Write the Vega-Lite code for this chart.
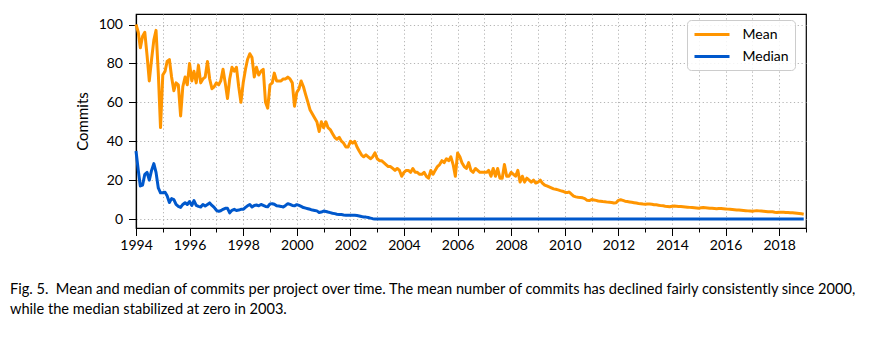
{
"$schema": "https://vega.github.io/schema/vega-lite/v6.json",
"width": 670, "height": 214,
"autosize": {"type": "none"},
"padding": {"left": 136, "top": 14, "right": 90, "bottom": 123},
"data": {"values": [
{"date":"1994-01","Mean":100,"Median":35},{"date":"1994-02","Mean":96,"Median":25},{"date":"1994-03","Mean":88,"Median":17},{"date":"1994-04","Mean":94,"Median":17.5},{"date":"1994-05","Mean":96,"Median":23},{"date":"1994-06","Mean":84,"Median":24},{"date":"1994-07","Mean":71,"Median":20},{"date":"1994-08","Mean":82,"Median":25},{"date":"1994-09","Mean":92,"Median":28.5},{"date":"1994-10","Mean":97,"Median":24},{"date":"1994-11","Mean":75,"Median":16},{"date":"1994-12","Mean":47,"Median":13.5},
{"date":"1995-01","Mean":74,"Median":13.5},{"date":"1995-02","Mean":76,"Median":13.8},{"date":"1995-03","Mean":81,"Median":12},{"date":"1995-04","Mean":82,"Median":8.5},{"date":"1995-05","Mean":73,"Median":10.5},{"date":"1995-06","Mean":66,"Median":10},{"date":"1995-07","Mean":70,"Median":7.5},{"date":"1995-08","Mean":69,"Median":6.5},{"date":"1995-09","Mean":53,"Median":6},{"date":"1995-10","Mean":68,"Median":7.5},{"date":"1995-11","Mean":73,"Median":8.4},{"date":"1995-12","Mean":69,"Median":7.5},
{"date":"1996-01","Mean":80,"Median":9},{"date":"1996-02","Mean":71,"Median":7},{"date":"1996-03","Mean":76,"Median":9.5},{"date":"1996-04","Mean":70,"Median":7},{"date":"1996-05","Mean":79,"Median":6.5},{"date":"1996-06","Mean":70,"Median":6.2},{"date":"1996-07","Mean":72,"Median":7.5},{"date":"1996-08","Mean":73,"Median":6.7},{"date":"1996-09","Mean":81,"Median":7.5},{"date":"1996-10","Mean":72,"Median":8.3},{"date":"1996-11","Mean":67,"Median":7},{"date":"1996-12","Mean":68,"Median":6},
{"date":"1997-01","Mean":70,"Median":4.5},{"date":"1997-02","Mean":69,"Median":4},{"date":"1997-03","Mean":71,"Median":4.3},{"date":"1997-04","Mean":77,"Median":5},{"date":"1997-05","Mean":70,"Median":5.5},{"date":"1997-06","Mean":62,"Median":5.5},{"date":"1997-07","Mean":72,"Median":3.2},{"date":"1997-08","Mean":78,"Median":4.5},{"date":"1997-09","Mean":76,"Median":5},{"date":"1997-10","Mean":78,"Median":4.4},{"date":"1997-11","Mean":68,"Median":4.6},{"date":"1997-12","Mean":60,"Median":5},
{"date":"1998-01","Mean":70,"Median":5},{"date":"1998-02","Mean":77,"Median":6},{"date":"1998-03","Mean":82,"Median":6.8},{"date":"1998-04","Mean":85,"Median":7.5},{"date":"1998-05","Mean":83,"Median":6.2},{"date":"1998-06","Mean":73,"Median":7},{"date":"1998-07","Mean":78,"Median":7.2},{"date":"1998-08","Mean":74,"Median":6.8},{"date":"1998-09","Mean":76,"Median":7.5},{"date":"1998-10","Mean":77,"Median":7},{"date":"1998-11","Mean":60,"Median":6.5},{"date":"1998-12","Mean":57,"Median":6.3},
{"date":"1999-01","Mean":69,"Median":7.8},{"date":"1999-02","Mean":70,"Median":7.9},{"date":"1999-03","Mean":75,"Median":7.6},{"date":"1999-04","Mean":71,"Median":6.8},{"date":"1999-05","Mean":71,"Median":6.7},{"date":"1999-06","Mean":71,"Median":6.5},{"date":"1999-07","Mean":72,"Median":6.2},{"date":"1999-08","Mean":72,"Median":7},{"date":"1999-09","Mean":73,"Median":7.9},{"date":"1999-10","Mean":72,"Median":7.5},{"date":"1999-11","Mean":70,"Median":7},{"date":"1999-12","Mean":58,"Median":6.8},
{"date":"2000-01","Mean":65,"Median":7.4},{"date":"2000-02","Mean":67,"Median":7},{"date":"2000-03","Mean":71,"Median":6.5},{"date":"2000-04","Mean":68,"Median":5.9},{"date":"2000-05","Mean":64,"Median":5.6},{"date":"2000-06","Mean":60,"Median":5.3},{"date":"2000-07","Mean":56,"Median":5},{"date":"2000-08","Mean":54,"Median":4.6},{"date":"2000-09","Mean":52,"Median":4.4},{"date":"2000-10","Mean":50,"Median":4.2},{"date":"2000-11","Mean":45,"Median":3.4},{"date":"2000-12","Mean":50,"Median":3.6},
{"date":"2001-01","Mean":47,"Median":4.1},{"date":"2001-02","Mean":50,"Median":3.9},{"date":"2001-03","Mean":47,"Median":3.6},{"date":"2001-04","Mean":46,"Median":3.3},{"date":"2001-05","Mean":44,"Median":3},{"date":"2001-06","Mean":42,"Median":2.8},{"date":"2001-07","Mean":41,"Median":2.5},{"date":"2001-08","Mean":42,"Median":2.4},{"date":"2001-09","Mean":40,"Median":2.3},{"date":"2001-10","Mean":39,"Median":2.1},{"date":"2001-11","Mean":37,"Median":2},{"date":"2001-12","Mean":37,"Median":2},
{"date":"2002-01","Mean":40,"Median":2},{"date":"2002-02","Mean":39,"Median":2},{"date":"2002-03","Mean":40,"Median":1.9},{"date":"2002-04","Mean":37,"Median":1.8},{"date":"2002-05","Mean":35,"Median":1.6},{"date":"2002-06","Mean":33,"Median":1.3},{"date":"2002-07","Mean":32,"Median":1.1},{"date":"2002-08","Mean":33,"Median":1},{"date":"2002-09","Mean":32,"Median":0.8},{"date":"2002-10","Mean":31,"Median":0.5},{"date":"2002-11","Mean":32,"Median":0.2},{"date":"2002-12","Mean":34,"Median":0},
{"date":"2003-01","Mean":31,"Median":0},{"date":"2003-02","Mean":30,"Median":0},{"date":"2003-03","Mean":30,"Median":0},{"date":"2003-04","Mean":29,"Median":0},{"date":"2003-05","Mean":28,"Median":0},{"date":"2003-06","Mean":27,"Median":0},{"date":"2003-07","Mean":27,"Median":0},{"date":"2003-08","Mean":26,"Median":0},{"date":"2003-09","Mean":25,"Median":0},{"date":"2003-10","Mean":26,"Median":0},{"date":"2003-11","Mean":25,"Median":0},{"date":"2003-12","Mean":22,"Median":0},
{"date":"2004-01","Mean":24,"Median":0},{"date":"2004-02","Mean":25,"Median":0},{"date":"2004-03","Mean":25,"Median":0},{"date":"2004-04","Mean":24,"Median":0},{"date":"2004-05","Mean":26,"Median":0},{"date":"2004-06","Mean":24,"Median":0},{"date":"2004-07","Mean":24,"Median":0},{"date":"2004-08","Mean":23,"Median":0},{"date":"2004-09","Mean":23,"Median":0},{"date":"2004-10","Mean":24,"Median":0},{"date":"2004-11","Mean":22,"Median":0},{"date":"2004-12","Mean":21,"Median":0},
{"date":"2005-01","Mean":25,"Median":0},{"date":"2005-02","Mean":23,"Median":0},{"date":"2005-03","Mean":25,"Median":0},{"date":"2005-04","Mean":27,"Median":0},{"date":"2005-05","Mean":28,"Median":0},{"date":"2005-06","Mean":30,"Median":0},{"date":"2005-07","Mean":29,"Median":0},{"date":"2005-08","Mean":31,"Median":0},{"date":"2005-09","Mean":30,"Median":0},{"date":"2005-10","Mean":32,"Median":0},{"date":"2005-11","Mean":28,"Median":0},{"date":"2005-12","Mean":22,"Median":0},
{"date":"2006-01","Mean":34,"Median":0},{"date":"2006-02","Mean":32,"Median":0},{"date":"2006-03","Mean":29,"Median":0},{"date":"2006-04","Mean":27,"Median":0},{"date":"2006-05","Mean":26,"Median":0},{"date":"2006-06","Mean":29,"Median":0},{"date":"2006-07","Mean":25,"Median":0},{"date":"2006-08","Mean":24,"Median":0},{"date":"2006-09","Mean":26,"Median":0},{"date":"2006-10","Mean":25,"Median":0},{"date":"2006-11","Mean":24,"Median":0},{"date":"2006-12","Mean":24,"Median":0},
{"date":"2007-01","Mean":24,"Median":0},{"date":"2007-02","Mean":24,"Median":0},{"date":"2007-03","Mean":25,"Median":0},{"date":"2007-04","Mean":22,"Median":0},{"date":"2007-05","Mean":26,"Median":0},{"date":"2007-06","Mean":22,"Median":0},{"date":"2007-07","Mean":26,"Median":0},{"date":"2007-08","Mean":21,"Median":0},{"date":"2007-09","Mean":21,"Median":0},{"date":"2007-10","Mean":28,"Median":0},{"date":"2007-11","Mean":22,"Median":0},{"date":"2007-12","Mean":22,"Median":0},
{"date":"2008-01","Mean":24,"Median":0},{"date":"2008-02","Mean":23,"Median":0},{"date":"2008-03","Mean":22,"Median":0},{"date":"2008-04","Mean":25,"Median":0},{"date":"2008-05","Mean":19,"Median":0},{"date":"2008-06","Mean":22,"Median":0},{"date":"2008-07","Mean":19,"Median":0},{"date":"2008-08","Mean":21,"Median":0},{"date":"2008-09","Mean":20,"Median":0},{"date":"2008-10","Mean":19,"Median":0},{"date":"2008-11","Mean":20,"Median":0},{"date":"2008-12","Mean":18.5,"Median":0},
{"date":"2009-01","Mean":19,"Median":0},{"date":"2009-02","Mean":20,"Median":0},{"date":"2009-03","Mean":18.5,"Median":0},{"date":"2009-04","Mean":17.5,"Median":0},{"date":"2009-05","Mean":17,"Median":0},{"date":"2009-06","Mean":16.5,"Median":0},{"date":"2009-07","Mean":16,"Median":0},{"date":"2009-08","Mean":15.5,"Median":0},{"date":"2009-09","Mean":15.3,"Median":0},{"date":"2009-10","Mean":15,"Median":0},{"date":"2009-11","Mean":14.6,"Median":0},{"date":"2009-12","Mean":14.3,"Median":0},
{"date":"2010-01","Mean":13.8,"Median":0},{"date":"2010-02","Mean":13.6,"Median":0},{"date":"2010-03","Mean":13.9,"Median":0},{"date":"2010-04","Mean":12.8,"Median":0},{"date":"2010-05","Mean":11.8,"Median":0},{"date":"2010-06","Mean":11.4,"Median":0},{"date":"2010-07","Mean":11.2,"Median":0},{"date":"2010-08","Mean":11.1,"Median":0},{"date":"2010-09","Mean":10.9,"Median":0},{"date":"2010-10","Mean":10.5,"Median":0},{"date":"2010-11","Mean":9.6,"Median":0},{"date":"2010-12","Mean":9.5,"Median":0},
{"date":"2011-01","Mean":10,"Median":0},{"date":"2011-02","Mean":9.8,"Median":0},{"date":"2011-03","Mean":9.6,"Median":0},{"date":"2011-04","Mean":9.3,"Median":0},{"date":"2011-05","Mean":9.2,"Median":0},{"date":"2011-06","Mean":9,"Median":0},{"date":"2011-07","Mean":8.9,"Median":0},{"date":"2011-08","Mean":8.7,"Median":0},{"date":"2011-09","Mean":8.6,"Median":0},{"date":"2011-10","Mean":8.5,"Median":0},{"date":"2011-11","Mean":8.3,"Median":0},{"date":"2011-12","Mean":8.4,"Median":0},
{"date":"2012-01","Mean":9.6,"Median":0},{"date":"2012-02","Mean":9.9,"Median":0},{"date":"2012-03","Mean":9.6,"Median":0},{"date":"2012-04","Mean":9.2,"Median":0},{"date":"2012-05","Mean":9,"Median":0},{"date":"2012-06","Mean":8.8,"Median":0},{"date":"2012-07","Mean":8.6,"Median":0},{"date":"2012-08","Mean":8.4,"Median":0},{"date":"2012-09","Mean":8.2,"Median":0},{"date":"2012-10","Mean":8,"Median":0},{"date":"2012-11","Mean":7.9,"Median":0},{"date":"2012-12","Mean":7.7,"Median":0},
{"date":"2013-01","Mean":7.6,"Median":0},{"date":"2013-02","Mean":7.7,"Median":0},{"date":"2013-03","Mean":7.7,"Median":0},{"date":"2013-04","Mean":7.6,"Median":0},{"date":"2013-05","Mean":7.4,"Median":0},{"date":"2013-06","Mean":7.3,"Median":0},{"date":"2013-07","Mean":7.1,"Median":0},{"date":"2013-08","Mean":6.9,"Median":0},{"date":"2013-09","Mean":6.8,"Median":0},{"date":"2013-10","Mean":6.6,"Median":0},{"date":"2013-11","Mean":6.5,"Median":0},{"date":"2013-12","Mean":6.3,"Median":0},
{"date":"2014-01","Mean":6.6,"Median":0},{"date":"2014-02","Mean":6.7,"Median":0},{"date":"2014-03","Mean":6.6,"Median":0},{"date":"2014-04","Mean":6.5,"Median":0},{"date":"2014-05","Mean":6.4,"Median":0},{"date":"2014-06","Mean":6.3,"Median":0},{"date":"2014-07","Mean":6.2,"Median":0},{"date":"2014-08","Mean":6.1,"Median":0},{"date":"2014-09","Mean":6,"Median":0},{"date":"2014-10","Mean":5.9,"Median":0},{"date":"2014-11","Mean":5.8,"Median":0},{"date":"2014-12","Mean":5.7,"Median":0},
{"date":"2015-01","Mean":5.6,"Median":0},{"date":"2015-02","Mean":5.8,"Median":0},{"date":"2015-03","Mean":5.9,"Median":0},{"date":"2015-04","Mean":5.8,"Median":0},{"date":"2015-05","Mean":5.7,"Median":0},{"date":"2015-06","Mean":5.6,"Median":0},{"date":"2015-07","Mean":5.5,"Median":0},{"date":"2015-08","Mean":5.4,"Median":0},{"date":"2015-09","Mean":5.3,"Median":0},{"date":"2015-10","Mean":5.4,"Median":0},{"date":"2015-11","Mean":5.4,"Median":0},{"date":"2015-12","Mean":5.3,"Median":0},
{"date":"2016-01","Mean":5.2,"Median":0},{"date":"2016-02","Mean":5.1,"Median":0},{"date":"2016-03","Mean":5,"Median":0},{"date":"2016-04","Mean":4.9,"Median":0},{"date":"2016-05","Mean":4.8,"Median":0},{"date":"2016-06","Mean":4.7,"Median":0},{"date":"2016-07","Mean":4.6,"Median":0},{"date":"2016-08","Mean":4.5,"Median":0},{"date":"2016-09","Mean":4.4,"Median":0},{"date":"2016-10","Mean":4.3,"Median":0},{"date":"2016-11","Mean":4.2,"Median":0},{"date":"2016-12","Mean":4.1,"Median":0},
{"date":"2017-01","Mean":4,"Median":0},{"date":"2017-02","Mean":4.2,"Median":0},{"date":"2017-03","Mean":4.3,"Median":0},{"date":"2017-04","Mean":4.2,"Median":0},{"date":"2017-05","Mean":4.1,"Median":0},{"date":"2017-06","Mean":4,"Median":0},{"date":"2017-07","Mean":3.9,"Median":0},{"date":"2017-08","Mean":3.8,"Median":0},{"date":"2017-09","Mean":3.8,"Median":0},{"date":"2017-10","Mean":3.7,"Median":0},{"date":"2017-11","Mean":3.5,"Median":0},{"date":"2017-12","Mean":3.4,"Median":0},
{"date":"2018-01","Mean":3.5,"Median":0},{"date":"2018-02","Mean":3.5,"Median":0},{"date":"2018-03","Mean":3.5,"Median":0},{"date":"2018-04","Mean":3.4,"Median":0},{"date":"2018-05","Mean":3.4,"Median":0},{"date":"2018-06","Mean":3.3,"Median":0},{"date":"2018-07","Mean":3.2,"Median":0},{"date":"2018-08","Mean":3.1,"Median":0},{"date":"2018-09","Mean":3,"Median":0},{"date":"2018-10","Mean":2.9,"Median":0},{"date":"2018-11","Mean":2.7,"Median":0},{"date":"2018-12","Mean":2.5,"Median":0}
]},
"transform": [{"fold": ["Mean", "Median"], "as": ["series", "value"]}],
"mark": {"type": "line", "strokeWidth": 3, "strokeJoin": "round"},
"encoding": {
  "x": {"field": "date", "type": "temporal",
    "scale": {"type": "utc", "nice": false, "domain": [{"year": 1994, "month": 1, "date": 1, "utc": true}, {"year": 2019, "month": 1, "date": 1, "utc": true}]},
    "axis": {"title": null, "format": "%Y", "tickCount": {"interval": "year", "step": 1},
      "labelExpr": "utcyear(datum.value) % 2 === 0 ? datum.label : ''",
      "labelOverlap": false, "labelFlush": false, "labelPadding": 3,
      "tickSize": {"condition": {"test": "utcyear(datum.value) % 2 === 1", "value": 4}, "value": 7.5},
      "gridOpacity": {"condition": {"test": "utcyear(datum.value) <= 1994 || utcyear(datum.value) >= 2019", "value": 0}, "value": 1}}},
  "y": {"field": "value", "type": "quantitative",
    "scale": {"domain": [-4.6, 105.4], "nice": false, "zero": false},
    "axis": {"title": "Commits", "values": [0, 20, 40, 60, 80, 100], "tickSize": 7.5, "labelPadding": 6, "titlePadding": 8}},
  "color": {"field": "series", "type": "nominal",
    "scale": {"domain": ["Mean", "Median"], "range": ["#ff9500", "#0058cc"]},
    "legend": {"title": null, "orient": "none", "legendX": 551, "legendY": 6,
      "symbolType": "M-2.5,0H2.5", "symbolSize": 196, "symbolStrokeWidth": 3, "symbolOffset": 10.5,
      "labelFontSize": 14, "labelColor": "black", "labelOffset": 22,
      "padding": 6, "rowPadding": 6, "strokeColor": "#cccccc", "fillColor": "rgba(255,255,255,0.85)", "cornerRadius": 4}}
},
"title": {"text": ["Fig. 5.\u00a0 Mean and median of commits per project over time. The mean number of commits has declined fairly consistently since 2000,", "while the median stabilized at zero in 2003."],
  "orient": "bottom", "anchor": "start", "frame": "group", "dx": -126, "offset": 29,
  "fontSize": 14.6, "fontWeight": "normal", "color": "black", "lineHeight": 20},
"config": {
  "font": "Lato",
  "view": {"stroke": "black", "strokeWidth": 1.2},
  "axis": {"domain": true, "domainColor": "black", "domainWidth": 1.2, "tickColor": "black", "tickWidth": 1,
    "labelColor": "black", "labelFontSize": 14, "titleColor": "black", "titleFontSize": 15, "titleFontWeight": "normal",
    "grid": true, "gridColor": "#b3b3b3", "gridDash": [1.2, 2.6], "gridWidth": 1}
}
}
